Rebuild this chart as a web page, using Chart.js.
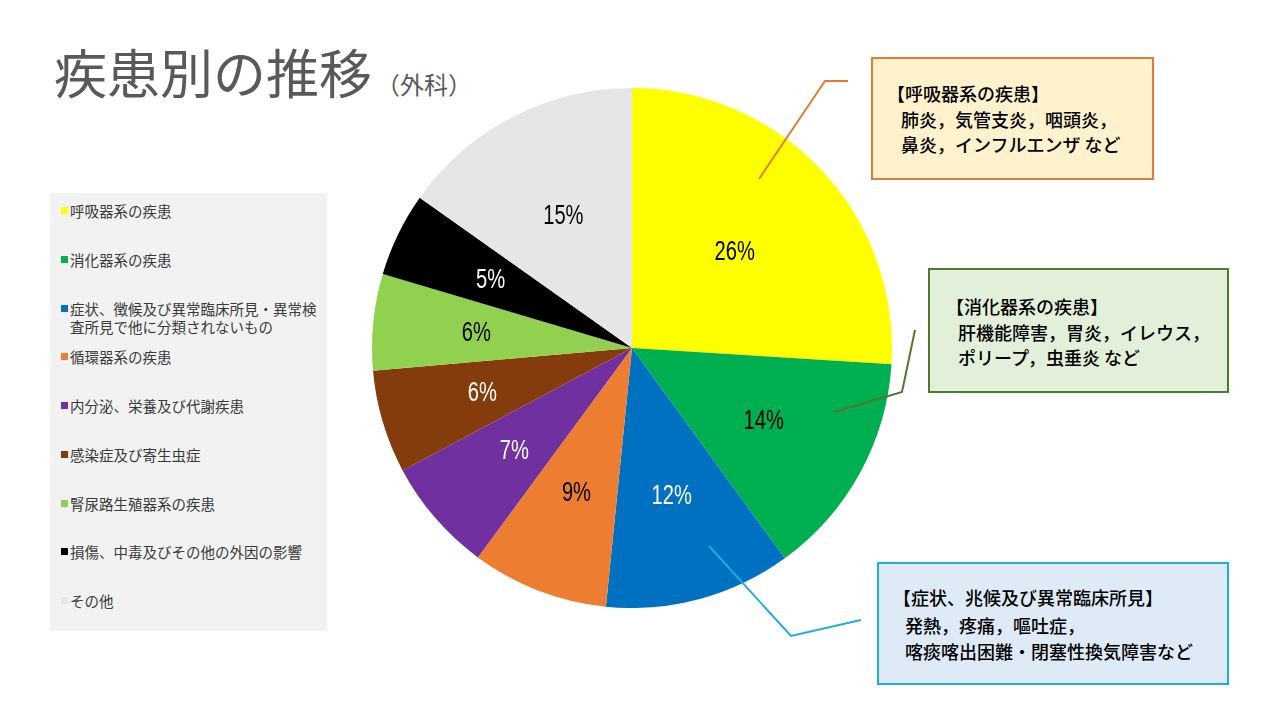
<!DOCTYPE html>
<html lang="ja">
<head>
<meta charset="utf-8">
<title>疾患別の推移（外科）</title>
<script src="https://cdn.jsdelivr.net/npm/chart.js@4.4.0/dist/chart.umd.min.js"></script>
<style>
    html, body { margin: 0; padding: 0; background: #fff; }
    body { width: 1280px; height: 720px; position: relative; overflow: hidden;
           font-family: "Noto Sans CJK JP", "Noto Sans", sans-serif; }
    #title { position: absolute; left: 54px; top: 36px; color: #595959; font-size: 53px;
             line-height: 70px; white-space: nowrap; }
    #title small { font-size: 24px; margin-left: 4px; }
    #legend { position: absolute; left: 50px; top: 193px; width: 277px; height: 438px; background: #f2f2f2; }
    .item { position: absolute; left: 11px; width: 262px; font-size: 14.5px; line-height: 18px; color: #3a3a3a; }
    .item i { position: absolute; left: 0; top: 5px; width: 7px; height: 7px; }
    .item span { display: block; padding-left: 9px; }
    #pieWrap { position: absolute; left: 372px; top: 88px; width: 520px; height: 520px; }
    .callout { position: absolute; box-sizing: border-box; border: 2px solid; color: #000;
               font-size: 18px; font-weight: 500; line-height: 25px; white-space: nowrap; }
    .callout div { position: absolute; }
    svg { position: absolute; left: 0; top: 0; }
</style>
</head>
<body>

<div id="title">疾患別の推移<small>（外科）</small></div>
<div id="legend"></div>
<div id="pieWrap"><canvas id="chart" width="520" height="520"></canvas></div>

<svg width="1280" height="720">
    <polyline points="759,179 825,81 848,81" fill="none" stroke="#e07b39" stroke-width="2"/>
    <polyline points="834,412 902,392 915,330" fill="none" stroke="#4e7a2e" stroke-width="2"/>
    <polyline points="709,546 791,636 861,620" fill="none" stroke="#1fade0" stroke-width="2"/>
</svg>

<div class="callout" style="left:871px;top:57px;width:283px;height:123px;border-color:#e07b39;background:#fff2cc;">
    <div style="left:14px;top:22px;">【呼吸器系の疾患】</div>
    <div style="left:28px;top:48px;">肺炎，気管支炎，咽頭炎，</div>
    <div style="left:28px;top:73px;">鼻炎，インフルエンザ など</div>
</div>
<div class="callout" style="left:928px;top:268px;width:301px;height:125px;border-color:#4e7a2e;background:#e2f0d9;">
    <div style="left:16px;top:24px;">【消化器系の疾患】</div>
    <div style="left:28px;top:50px;">肝機能障害，胃炎，イレウス，</div>
    <div style="left:28px;top:75px;">ポリープ，虫垂炎 など</div>
</div>
<div class="callout" style="left:877px;top:562px;width:352px;height:123px;border-color:#1fade0;background:#deebf7;">
    <div style="left:14px;top:21px;">【症状、兆候及び異常臨床所見】</div>
    <div style="left:26px;top:49px;">発熱，疼痛，嘔吐症，</div>
    <div style="left:26px;top:75px;">喀痰喀出困難・閉塞性換気障害など</div>
</div>

<script>
// categories (clockwise from 12 o'clock) and their share in %
const categories = [
    '呼吸器系の疾患',
    '消化器系の疾患',
    '症状、徴候及び異常臨床所見・異常検査所見で他に分類されないもの',
    '循環器系の疾患',
    '内分泌、栄養及び代謝疾患',
    '感染症及び寄生虫症',
    '腎尿路生殖器系の疾患',
    '損傷、中毒及びその他の外因の影響',
    'その他'
];
const shares = [26.0, 14.0, 11.6, 8.5, 7.1, 6.4, 6.0, 5.2, 15.2];

const sliceColors = ['#ffff00', '#00b050', '#0070c0', '#ed7d31', '#7030a0', '#843c0c', '#92d050', '#000000', '#e7e6e6'];
const labelColors = ['#000', '#000', '#fff', '#000', '#fff', '#fff', '#000', '#fff', '#000'];

// legend on the left, built from the categories
const legendBox = document.getElementById('legend');
categories.forEach((name, i) => {
    const el = document.createElement('div');
    el.className = 'item';
    el.style.top = (9 + i * 48.75) + 'px';
    el.innerHTML = '<i style="background:' + sliceColors[i] + '"></i><span>' + name + '</span>';
    legendBox.appendChild(el);
});

// percentage text inside each slice (narrow, tall digits like the original)
const pctLabels = {
    id: 'pctLabels',
    afterDatasetsDraw(chart) {
        const ctx = chart.ctx;
        const total = shares.reduce((a, b) => a + b, 0);
        const squeeze = 0.72;
        chart.getDatasetMeta(0).data.forEach((arc, i) => {
            const p = arc.getProps(['x', 'y', 'startAngle', 'endAngle', 'outerRadius'], true);
            const mid = (p.startAngle + p.endAngle) / 2;
            const r = p.outerRadius * (0.62 - 0.3 * shares[i] / total);
            const tx = p.x + Math.cos(mid) * r;
            const ty = p.y + Math.sin(mid) * r;
            ctx.save();
            ctx.translate(tx, ty);
            ctx.scale(squeeze, 1);
            ctx.font = '28px "Liberation Sans", Arial, sans-serif';
            ctx.textAlign = 'center';
            ctx.textBaseline = 'middle';
            ctx.fillStyle = labelColors[i];
            ctx.fillText(Math.round(shares[i]) + '%', 0, 1);
            ctx.restore();
        });
    }
};

new Chart(document.getElementById('chart'), {
    type: 'pie',
    data: {
        labels: categories,
        datasets: [{
            data: shares,
            backgroundColor: sliceColors,
            borderWidth: 0
        }]
    },
    options: {
        responsive: false,
        animation: false,
        layout: { padding: 0 },
        plugins: {
            legend: { display: false },
            tooltip: { enabled: false }
        }
    },
    plugins: [pctLabels]
});
</script>
</body>
</html>
